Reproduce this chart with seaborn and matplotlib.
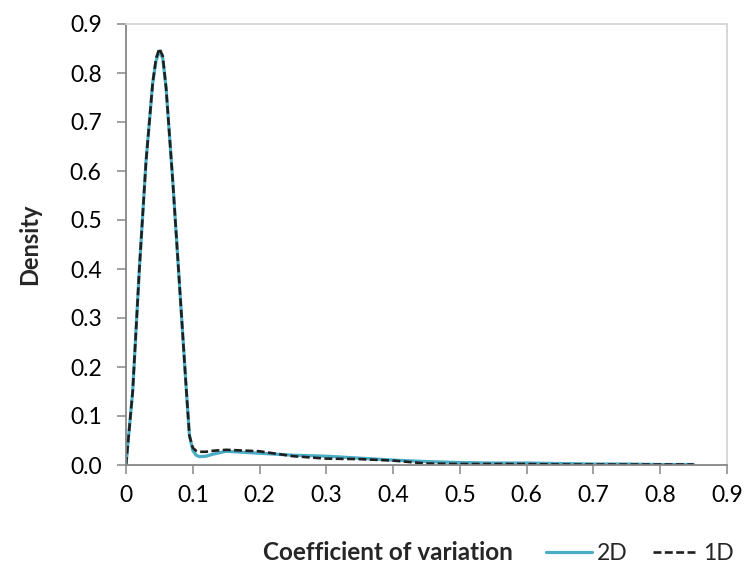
import matplotlib
matplotlib.use("Agg")
import matplotlib.pyplot as plt
import seaborn as sns
import pandas as pd
from matplotlib.lines import Line2D

# ---- data ----
cv = [0.0, 0.01, 0.02, 0.03, 0.04, 0.045, 0.05, 0.055, 0.06, 0.07, 0.08, 0.09, 0.095,
      0.1, 0.105, 0.11, 0.12, 0.13, 0.15, 0.2, 0.25, 0.3, 0.35, 0.4, 0.45, 0.5,
      0.55, 0.6, 0.65, 0.7, 0.75, 0.8, 0.85]
density_2d = [0.0, 0.15, 0.40, 0.62, 0.78, 0.825, 0.845, 0.83, 0.77, 0.58, 0.37, 0.16, 0.06,
              0.03, 0.02, 0.017, 0.018, 0.022, 0.028, 0.024, 0.02, 0.018, 0.014, 0.01, 0.007, 0.005,
              0.004, 0.004, 0.003, 0.002, 0.002, 0.001, 0.001]
density_1d = [0.0, 0.15, 0.40, 0.62, 0.78, 0.83, 0.85, 0.835, 0.77, 0.58, 0.37, 0.16, 0.06,
              0.035, 0.029, 0.027, 0.027, 0.029, 0.031, 0.028, 0.018, 0.013, 0.012, 0.009, 0.003, 0.002,
              0.002, 0.002, 0.001, 0.001, 0.001, 0.001, 0.001]
series_names = ["2D", "1D"]
x_ticks = [0, 0.1, 0.2, 0.3, 0.4, 0.5, 0.6, 0.7, 0.8, 0.9]
x_tick_labels = ["0", "0.1", "0.2", "0.3", "0.4", "0.5", "0.6", "0.7", "0.8", "0.9"]
y_ticks = [0.0, 0.1, 0.2, 0.3, 0.4, 0.5, 0.6, 0.7, 0.8, 0.9]
y_tick_labels = ["0.0", "0.1", "0.2", "0.3", "0.4", "0.5", "0.6", "0.7", "0.8", "0.9"]

sns.set_theme(style="white")
plt.rcParams["font.family"] = ["Lato", "DejaVu Sans"]

W, H = 747, 563
fig = plt.figure(figsize=(W / 100, H / 100), dpi=100)
ax = fig.add_axes([126 / W, 1 - 465 / H, (727 - 126) / W, (465 - 24) / H])

blue = "#4BACC6"
dark = "#1f1f1f"
dash = (0, (3.0, 1.3))
df2 = pd.DataFrame({"cv": cv, "density": density_2d})
df1 = pd.DataFrame({"cv": cv, "density": density_1d})
sns.lineplot(data=df2, x="cv", y="density", ax=ax, color=blue, linewidth=2.3, sort=False)
sns.lineplot(data=df1, x="cv", y="density", ax=ax, color=dark, linewidth=1.9, sort=False,
             linestyle=dash)

ax.set_xlim(0, 0.9)
ax.set_ylim(0, 0.9)
ax.set_xticks(x_ticks)
ax.set_xticklabels(x_tick_labels)
ax.set_yticks(y_ticks)
ax.set_yticklabels(y_tick_labels)
ax.set_xlabel("")
ax.set_ylabel("")

axis_gray = "#868686"
for side in ["left", "bottom"]:
    ax.spines[side].set_color(axis_gray)
    ax.spines[side].set_linewidth(1.3)
for side in ["top", "right"]:
    ax.spines[side].set_color("#d4d4d4")
    ax.spines[side].set_linewidth(1.3)

ax.tick_params(axis="both", which="major", direction="out", length=6.5, width=1.1,
               color=axis_gray, labelsize=16.5, labelcolor="black")
ax.tick_params(axis="y", pad=11, left=True)
ax.tick_params(axis="x", pad=8, bottom=True)

fig.text(30 / W, 1 - 244 / H, "Density", rotation=90, ha="center", va="center",
         fontsize=17, fontweight="bold")
fig.text(388 / W, 1 - 552 / H, "Coefficient of variation", ha="center", va="center",
         fontsize=17.5, fontweight="bold")

handles = [Line2D([], [], color=blue, linewidth=2.3),
           Line2D([], [], color=dark, linewidth=1.9, linestyle=dash)]
fig.legend(handles, series_names, loc="center", bbox_to_anchor=(640 / W, 1 - 554 / H),
           ncol=2, frameon=False, fontsize=16.5, handlelength=2.0, handletextpad=0.2,
           columnspacing=1.1, borderaxespad=0, borderpad=0)

fig.savefig("out.png", dpi=100)
